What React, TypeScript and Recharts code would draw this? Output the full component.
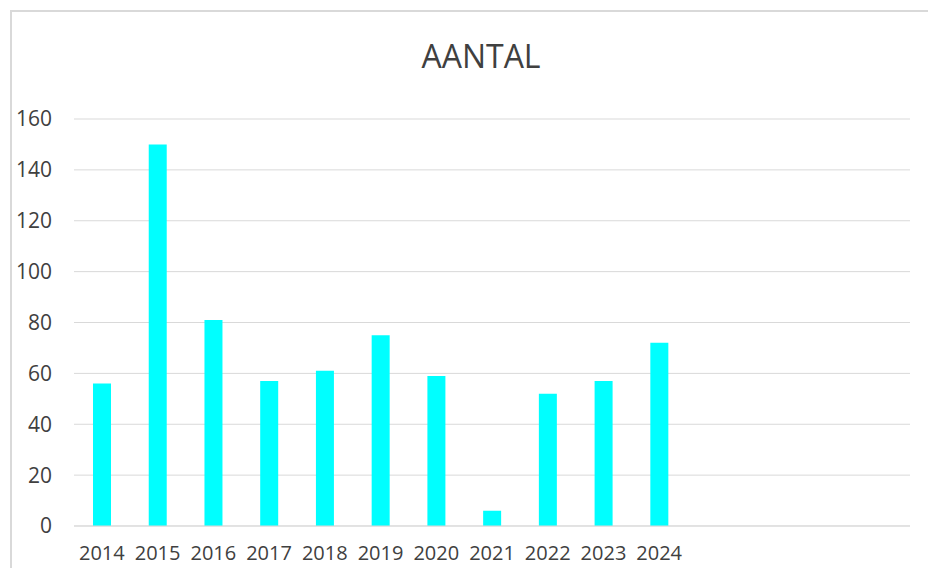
import React from "react";
import { BarChart, Bar, XAxis, YAxis, CartesianGrid } from "recharts";

// years on the axis; the last four slots are empty in the source sheet
const years = [
  "2014", "2015", "2016", "2017", "2018", "2019", "2020", "2021",
  "2022", "2023", "2024", "", "", "", "",
];
const aantal = [56, 150, 81, 57, 61, 75, 59, 6, 52, 57, 72, null, null, null, null];
const yTicks = [0, 20, 40, 60, 80, 100, 120, 140, 160];

const data = years.map((name, i) => ({ name, aantal: aantal[i] }));

const FONT = "'Open Sans', sans-serif";
const TEXT = "#404040";

export default function App() {
  return (
    <div
      style={{
        position: "relative",
        width: 936,
        height: 568,
        marginLeft: -8,
        marginTop: -8,
        overflow: "hidden",
        background: "#fff",
        fontFamily: FONT,
      }}
    >
      <div
        style={{
          position: "absolute",
          left: 10,
          top: 10,
          width: 2000,
          height: 2000,
          borderLeft: "2px solid #d9d9d9",
          borderTop: "2px solid #d9d9d9",
        }}
      />
      <div
        style={{
          position: "absolute",
          top: 34,
          left: 0,
          width: 962,
          textAlign: "center",
          fontSize: 32,
          color: TEXT,
          lineHeight: "44px",
        }}
      >
        AANTAL
      </div>
      <div style={{ position: "absolute", left: 0, top: 0 }}>
        <BarChart
          width={936}
          height={568}
          data={data}
          margin={{ top: 119, right: 26, left: 0, bottom: 0 }}
        >
          <CartesianGrid vertical={false} stroke="#d9d9d9" strokeWidth={1} />
          <XAxis
            dataKey="name"
            height={42}
            tickLine={false}
            axisLine={{ stroke: "#d9d9d9", strokeWidth: 1 }}
            tickMargin={14}
            interval={0}
            tick={{ fill: TEXT, fontSize: 20, fontFamily: FONT }}
          />
          <YAxis
            width={74}
            domain={[0, 160]}
            ticks={yTicks}
            tickLine={false}
            axisLine={false}
            tickMargin={16}
            tick={{ fill: TEXT, fontSize: 21, fontFamily: FONT }}
          />
          <Bar dataKey="aantal" fill="#00ffff" barSize={18} isAnimationActive={false} />
        </BarChart>
      </div>
    </div>
  );
}
